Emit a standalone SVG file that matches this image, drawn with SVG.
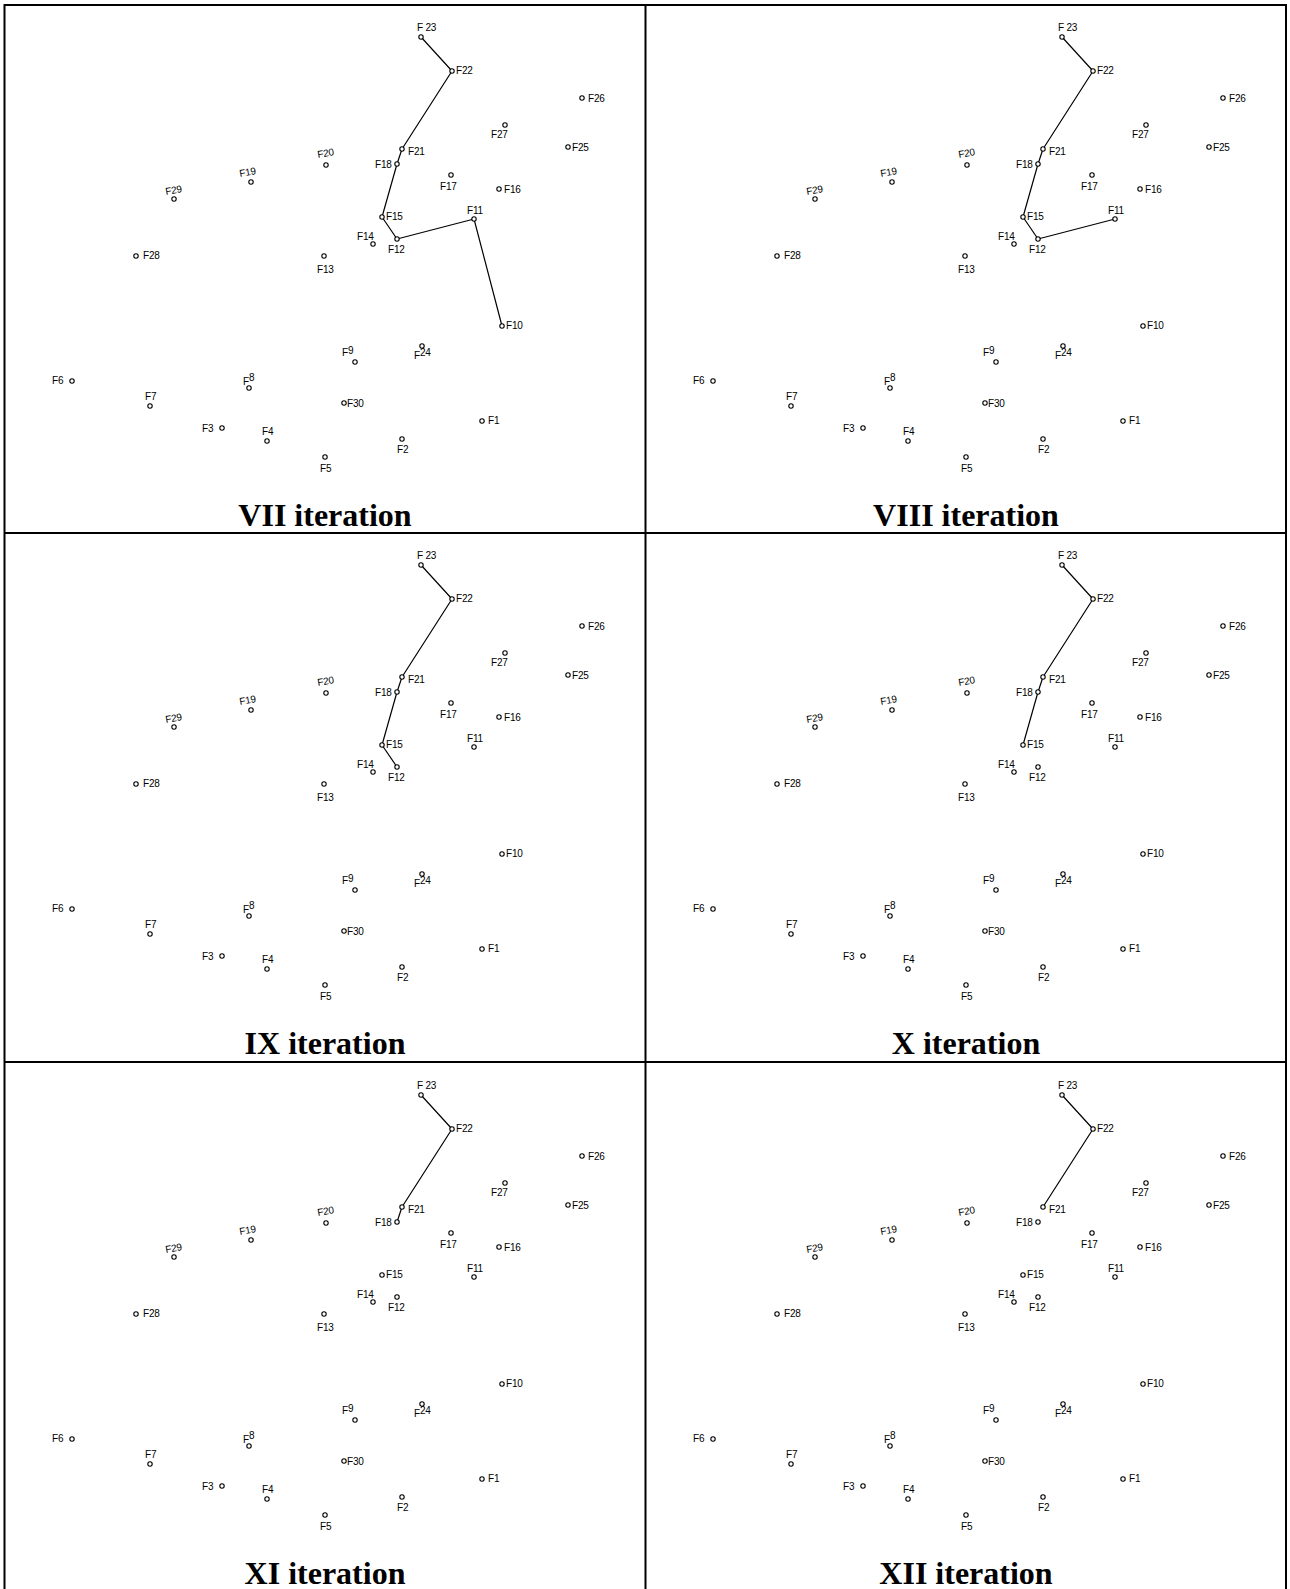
<svg xmlns="http://www.w3.org/2000/svg" width="1290" height="1589" viewBox="0 0 1290 1589">
<style>
.bg{fill:#fff}
.fr{stroke:#000;stroke-width:2;fill:none}
.c{fill:none;stroke:#000;stroke-width:1.2;stroke-linejoin:round}
.n circle{fill:#fff;stroke:#000;stroke-width:1.1}
.n text{font-family:"Liberation Sans",Arial,sans-serif;font-size:10px;fill:#000;letter-spacing:-0.2px}
.t{font-family:"Liberation Serif","Times New Roman",serif;font-weight:bold;font-size:32px;text-anchor:middle;fill:#000}
</style>
<rect class="bg" x="0" y="0" width="1290" height="1589"/>
<g id="frame">
<line class="fr" x1="4.5" y1="5" x2="1286" y2="5"/>
<line class="fr" x1="4.5" y1="4" x2="4.5" y2="1595"/>
<line class="fr" x1="1286" y1="4" x2="1286" y2="1595"/>
<line class="fr" x1="645.5" y1="4" x2="645.5" y2="1595"/>
<line class="fr" x1="4.5" y1="533" x2="1286" y2="533"/>
<line class="fr" x1="4.5" y1="1062" x2="1286" y2="1062"/>
</g>

<g id="panel-vii" transform="translate(0,0)">
<g id="connectors-vii"><polyline class="c" points="421,37 452,71 402,149 397,164 382,217 397,239 474,219 502,326"/></g>
<g id="vii-F1" class="n"><circle cx="482" cy="421" r="2.2"/><text x="488" y="424">F1</text></g>
<g id="vii-F2" class="n"><circle cx="402" cy="439" r="2.2"/><text x="397" y="453">F2</text></g>
<g id="vii-F3" class="n"><circle cx="222" cy="428" r="2.2"/><text x="202" y="432">F3</text></g>
<g id="vii-F4" class="n"><circle cx="267" cy="441" r="2.2"/><text x="262" y="435">F4</text></g>
<g id="vii-F5" class="n"><circle cx="325" cy="457" r="2.2"/><text x="320" y="472">F5</text></g>
<g id="vii-F6" class="n"><circle cx="72" cy="381" r="2.2"/><text x="52" y="384">F6</text></g>
<g id="vii-F7" class="n"><circle cx="150" cy="406" r="2.2"/><text x="145" y="400">F7</text></g>
<g id="vii-F8" class="n"><circle cx="249" cy="388" r="2.2"/><text x="243" y="385">F<tspan dy="-4">8</tspan></text></g>
<g id="vii-F9" class="n"><circle cx="355" cy="362" r="2.2"/><text x="342" y="356">F<tspan dy="-2">9</tspan></text></g>
<g id="vii-F10" class="n"><circle cx="502" cy="326" r="2.2"/><text x="506" y="329">F10</text></g>
<g id="vii-F11" class="n"><circle cx="474" cy="219" r="2.2"/><text x="467" y="214">F11</text></g>
<g id="vii-F12" class="n"><circle cx="397" cy="239" r="2.2"/><text x="388" y="253">F12</text></g>
<g id="vii-F13" class="n"><circle cx="324" cy="256" r="2.2"/><text x="317" y="273">F13</text></g>
<g id="vii-F14" class="n"><circle cx="373" cy="244" r="2.2"/><text x="357" y="240">F14</text></g>
<g id="vii-F15" class="n"><circle cx="382" cy="217" r="2.2"/><text x="386" y="220">F15</text></g>
<g id="vii-F16" class="n"><circle cx="499" cy="189" r="2.2"/><text x="504" y="193">F16</text></g>
<g id="vii-F17" class="n"><circle cx="451" cy="175" r="2.2"/><text x="440" y="190">F17</text></g>
<g id="vii-F18" class="n"><circle cx="397" cy="164" r="2.2"/><text x="375" y="168">F18</text></g>
<g id="vii-F19" class="n"><circle cx="251" cy="182" r="2.2"/><text x="240" y="177" transform="rotate(-10 240 177)">F19</text></g>
<g id="vii-F20" class="n"><circle cx="326" cy="165" r="2.2"/><text x="318" y="158" transform="rotate(-10 318 158)">F20</text></g>
<g id="vii-F21" class="n"><circle cx="402" cy="149" r="2.2"/><text x="408" y="155">F21</text></g>
<g id="vii-F22" class="n"><circle cx="452" cy="71" r="2.2"/><text x="456" y="74">F22</text></g>
<g id="vii-F23" class="n"><circle cx="421" cy="37" r="2.2"/><text x="417" y="31">F 23</text></g>
<g id="vii-F24" class="n"><circle cx="422" cy="346" r="2.2"/><text x="414" y="359">F<tspan dy="-3">24</tspan></text></g>
<g id="vii-F25" class="n"><circle cx="568" cy="147" r="2.2"/><text x="572" y="151">F25</text></g>
<g id="vii-F26" class="n"><circle cx="582" cy="98" r="2.2"/><text x="588" y="102">F26</text></g>
<g id="vii-F27" class="n"><circle cx="505" cy="125" r="2.2"/><text x="491" y="138">F27</text></g>
<g id="vii-F28" class="n"><circle cx="136" cy="256" r="2.2"/><text x="143" y="259">F28</text></g>
<g id="vii-F29" class="n"><circle cx="174" cy="199" r="2.2"/><text x="166" y="195" transform="rotate(-10 166 195)">F29</text></g>
<g id="vii-F30" class="n"><circle cx="344" cy="403" r="2.2"/><text x="347" y="407">F30</text></g>
<text class="t" x="325" y="526">VII iteration</text>
</g>

<g id="panel-viii" transform="translate(641,0)">
<g id="connectors-viii"><polyline class="c" points="421,37 452,71 402,149 397,164 382,217 397,239 474,219"/></g>
<g id="viii-F1" class="n"><circle cx="482" cy="421" r="2.2"/><text x="488" y="424">F1</text></g>
<g id="viii-F2" class="n"><circle cx="402" cy="439" r="2.2"/><text x="397" y="453">F2</text></g>
<g id="viii-F3" class="n"><circle cx="222" cy="428" r="2.2"/><text x="202" y="432">F3</text></g>
<g id="viii-F4" class="n"><circle cx="267" cy="441" r="2.2"/><text x="262" y="435">F4</text></g>
<g id="viii-F5" class="n"><circle cx="325" cy="457" r="2.2"/><text x="320" y="472">F5</text></g>
<g id="viii-F6" class="n"><circle cx="72" cy="381" r="2.2"/><text x="52" y="384">F6</text></g>
<g id="viii-F7" class="n"><circle cx="150" cy="406" r="2.2"/><text x="145" y="400">F7</text></g>
<g id="viii-F8" class="n"><circle cx="249" cy="388" r="2.2"/><text x="243" y="385">F<tspan dy="-4">8</tspan></text></g>
<g id="viii-F9" class="n"><circle cx="355" cy="362" r="2.2"/><text x="342" y="356">F<tspan dy="-2">9</tspan></text></g>
<g id="viii-F10" class="n"><circle cx="502" cy="326" r="2.2"/><text x="506" y="329">F10</text></g>
<g id="viii-F11" class="n"><circle cx="474" cy="219" r="2.2"/><text x="467" y="214">F11</text></g>
<g id="viii-F12" class="n"><circle cx="397" cy="239" r="2.2"/><text x="388" y="253">F12</text></g>
<g id="viii-F13" class="n"><circle cx="324" cy="256" r="2.2"/><text x="317" y="273">F13</text></g>
<g id="viii-F14" class="n"><circle cx="373" cy="244" r="2.2"/><text x="357" y="240">F14</text></g>
<g id="viii-F15" class="n"><circle cx="382" cy="217" r="2.2"/><text x="386" y="220">F15</text></g>
<g id="viii-F16" class="n"><circle cx="499" cy="189" r="2.2"/><text x="504" y="193">F16</text></g>
<g id="viii-F17" class="n"><circle cx="451" cy="175" r="2.2"/><text x="440" y="190">F17</text></g>
<g id="viii-F18" class="n"><circle cx="397" cy="164" r="2.2"/><text x="375" y="168">F18</text></g>
<g id="viii-F19" class="n"><circle cx="251" cy="182" r="2.2"/><text x="240" y="177" transform="rotate(-10 240 177)">F19</text></g>
<g id="viii-F20" class="n"><circle cx="326" cy="165" r="2.2"/><text x="318" y="158" transform="rotate(-10 318 158)">F20</text></g>
<g id="viii-F21" class="n"><circle cx="402" cy="149" r="2.2"/><text x="408" y="155">F21</text></g>
<g id="viii-F22" class="n"><circle cx="452" cy="71" r="2.2"/><text x="456" y="74">F22</text></g>
<g id="viii-F23" class="n"><circle cx="421" cy="37" r="2.2"/><text x="417" y="31">F 23</text></g>
<g id="viii-F24" class="n"><circle cx="422" cy="346" r="2.2"/><text x="414" y="359">F<tspan dy="-3">24</tspan></text></g>
<g id="viii-F25" class="n"><circle cx="568" cy="147" r="2.2"/><text x="572" y="151">F25</text></g>
<g id="viii-F26" class="n"><circle cx="582" cy="98" r="2.2"/><text x="588" y="102">F26</text></g>
<g id="viii-F27" class="n"><circle cx="505" cy="125" r="2.2"/><text x="491" y="138">F27</text></g>
<g id="viii-F28" class="n"><circle cx="136" cy="256" r="2.2"/><text x="143" y="259">F28</text></g>
<g id="viii-F29" class="n"><circle cx="174" cy="199" r="2.2"/><text x="166" y="195" transform="rotate(-10 166 195)">F29</text></g>
<g id="viii-F30" class="n"><circle cx="344" cy="403" r="2.2"/><text x="347" y="407">F30</text></g>
<text class="t" x="325" y="526">VIII iteration</text>
</g>

<g id="panel-ix" transform="translate(0,528)">
<g id="connectors-ix"><polyline class="c" points="421,37 452,71 402,149 397,164 382,217 397,239"/></g>
<g id="ix-F1" class="n"><circle cx="482" cy="421" r="2.2"/><text x="488" y="424">F1</text></g>
<g id="ix-F2" class="n"><circle cx="402" cy="439" r="2.2"/><text x="397" y="453">F2</text></g>
<g id="ix-F3" class="n"><circle cx="222" cy="428" r="2.2"/><text x="202" y="432">F3</text></g>
<g id="ix-F4" class="n"><circle cx="267" cy="441" r="2.2"/><text x="262" y="435">F4</text></g>
<g id="ix-F5" class="n"><circle cx="325" cy="457" r="2.2"/><text x="320" y="472">F5</text></g>
<g id="ix-F6" class="n"><circle cx="72" cy="381" r="2.2"/><text x="52" y="384">F6</text></g>
<g id="ix-F7" class="n"><circle cx="150" cy="406" r="2.2"/><text x="145" y="400">F7</text></g>
<g id="ix-F8" class="n"><circle cx="249" cy="388" r="2.2"/><text x="243" y="385">F<tspan dy="-4">8</tspan></text></g>
<g id="ix-F9" class="n"><circle cx="355" cy="362" r="2.2"/><text x="342" y="356">F<tspan dy="-2">9</tspan></text></g>
<g id="ix-F10" class="n"><circle cx="502" cy="326" r="2.2"/><text x="506" y="329">F10</text></g>
<g id="ix-F11" class="n"><circle cx="474" cy="219" r="2.2"/><text x="467" y="214">F11</text></g>
<g id="ix-F12" class="n"><circle cx="397" cy="239" r="2.2"/><text x="388" y="253">F12</text></g>
<g id="ix-F13" class="n"><circle cx="324" cy="256" r="2.2"/><text x="317" y="273">F13</text></g>
<g id="ix-F14" class="n"><circle cx="373" cy="244" r="2.2"/><text x="357" y="240">F14</text></g>
<g id="ix-F15" class="n"><circle cx="382" cy="217" r="2.2"/><text x="386" y="220">F15</text></g>
<g id="ix-F16" class="n"><circle cx="499" cy="189" r="2.2"/><text x="504" y="193">F16</text></g>
<g id="ix-F17" class="n"><circle cx="451" cy="175" r="2.2"/><text x="440" y="190">F17</text></g>
<g id="ix-F18" class="n"><circle cx="397" cy="164" r="2.2"/><text x="375" y="168">F18</text></g>
<g id="ix-F19" class="n"><circle cx="251" cy="182" r="2.2"/><text x="240" y="177" transform="rotate(-10 240 177)">F19</text></g>
<g id="ix-F20" class="n"><circle cx="326" cy="165" r="2.2"/><text x="318" y="158" transform="rotate(-10 318 158)">F20</text></g>
<g id="ix-F21" class="n"><circle cx="402" cy="149" r="2.2"/><text x="408" y="155">F21</text></g>
<g id="ix-F22" class="n"><circle cx="452" cy="71" r="2.2"/><text x="456" y="74">F22</text></g>
<g id="ix-F23" class="n"><circle cx="421" cy="37" r="2.2"/><text x="417" y="31">F 23</text></g>
<g id="ix-F24" class="n"><circle cx="422" cy="346" r="2.2"/><text x="414" y="359">F<tspan dy="-3">24</tspan></text></g>
<g id="ix-F25" class="n"><circle cx="568" cy="147" r="2.2"/><text x="572" y="151">F25</text></g>
<g id="ix-F26" class="n"><circle cx="582" cy="98" r="2.2"/><text x="588" y="102">F26</text></g>
<g id="ix-F27" class="n"><circle cx="505" cy="125" r="2.2"/><text x="491" y="138">F27</text></g>
<g id="ix-F28" class="n"><circle cx="136" cy="256" r="2.2"/><text x="143" y="259">F28</text></g>
<g id="ix-F29" class="n"><circle cx="174" cy="199" r="2.2"/><text x="166" y="195" transform="rotate(-10 166 195)">F29</text></g>
<g id="ix-F30" class="n"><circle cx="344" cy="403" r="2.2"/><text x="347" y="407">F30</text></g>
<text class="t" x="325" y="526">IX iteration</text>
</g>

<g id="panel-x" transform="translate(641,528)">
<g id="connectors-x"><polyline class="c" points="421,37 452,71 402,149 397,164 382,217"/></g>
<g id="x-F1" class="n"><circle cx="482" cy="421" r="2.2"/><text x="488" y="424">F1</text></g>
<g id="x-F2" class="n"><circle cx="402" cy="439" r="2.2"/><text x="397" y="453">F2</text></g>
<g id="x-F3" class="n"><circle cx="222" cy="428" r="2.2"/><text x="202" y="432">F3</text></g>
<g id="x-F4" class="n"><circle cx="267" cy="441" r="2.2"/><text x="262" y="435">F4</text></g>
<g id="x-F5" class="n"><circle cx="325" cy="457" r="2.2"/><text x="320" y="472">F5</text></g>
<g id="x-F6" class="n"><circle cx="72" cy="381" r="2.2"/><text x="52" y="384">F6</text></g>
<g id="x-F7" class="n"><circle cx="150" cy="406" r="2.2"/><text x="145" y="400">F7</text></g>
<g id="x-F8" class="n"><circle cx="249" cy="388" r="2.2"/><text x="243" y="385">F<tspan dy="-4">8</tspan></text></g>
<g id="x-F9" class="n"><circle cx="355" cy="362" r="2.2"/><text x="342" y="356">F<tspan dy="-2">9</tspan></text></g>
<g id="x-F10" class="n"><circle cx="502" cy="326" r="2.2"/><text x="506" y="329">F10</text></g>
<g id="x-F11" class="n"><circle cx="474" cy="219" r="2.2"/><text x="467" y="214">F11</text></g>
<g id="x-F12" class="n"><circle cx="397" cy="239" r="2.2"/><text x="388" y="253">F12</text></g>
<g id="x-F13" class="n"><circle cx="324" cy="256" r="2.2"/><text x="317" y="273">F13</text></g>
<g id="x-F14" class="n"><circle cx="373" cy="244" r="2.2"/><text x="357" y="240">F14</text></g>
<g id="x-F15" class="n"><circle cx="382" cy="217" r="2.2"/><text x="386" y="220">F15</text></g>
<g id="x-F16" class="n"><circle cx="499" cy="189" r="2.2"/><text x="504" y="193">F16</text></g>
<g id="x-F17" class="n"><circle cx="451" cy="175" r="2.2"/><text x="440" y="190">F17</text></g>
<g id="x-F18" class="n"><circle cx="397" cy="164" r="2.2"/><text x="375" y="168">F18</text></g>
<g id="x-F19" class="n"><circle cx="251" cy="182" r="2.2"/><text x="240" y="177" transform="rotate(-10 240 177)">F19</text></g>
<g id="x-F20" class="n"><circle cx="326" cy="165" r="2.2"/><text x="318" y="158" transform="rotate(-10 318 158)">F20</text></g>
<g id="x-F21" class="n"><circle cx="402" cy="149" r="2.2"/><text x="408" y="155">F21</text></g>
<g id="x-F22" class="n"><circle cx="452" cy="71" r="2.2"/><text x="456" y="74">F22</text></g>
<g id="x-F23" class="n"><circle cx="421" cy="37" r="2.2"/><text x="417" y="31">F 23</text></g>
<g id="x-F24" class="n"><circle cx="422" cy="346" r="2.2"/><text x="414" y="359">F<tspan dy="-3">24</tspan></text></g>
<g id="x-F25" class="n"><circle cx="568" cy="147" r="2.2"/><text x="572" y="151">F25</text></g>
<g id="x-F26" class="n"><circle cx="582" cy="98" r="2.2"/><text x="588" y="102">F26</text></g>
<g id="x-F27" class="n"><circle cx="505" cy="125" r="2.2"/><text x="491" y="138">F27</text></g>
<g id="x-F28" class="n"><circle cx="136" cy="256" r="2.2"/><text x="143" y="259">F28</text></g>
<g id="x-F29" class="n"><circle cx="174" cy="199" r="2.2"/><text x="166" y="195" transform="rotate(-10 166 195)">F29</text></g>
<g id="x-F30" class="n"><circle cx="344" cy="403" r="2.2"/><text x="347" y="407">F30</text></g>
<text class="t" x="325" y="526">X iteration</text>
</g>

<g id="panel-xi" transform="translate(0,1058)">
<g id="connectors-xi"><polyline class="c" points="421,37 452,71 402,149 397,164"/></g>
<g id="xi-F1" class="n"><circle cx="482" cy="421" r="2.2"/><text x="488" y="424">F1</text></g>
<g id="xi-F2" class="n"><circle cx="402" cy="439" r="2.2"/><text x="397" y="453">F2</text></g>
<g id="xi-F3" class="n"><circle cx="222" cy="428" r="2.2"/><text x="202" y="432">F3</text></g>
<g id="xi-F4" class="n"><circle cx="267" cy="441" r="2.2"/><text x="262" y="435">F4</text></g>
<g id="xi-F5" class="n"><circle cx="325" cy="457" r="2.2"/><text x="320" y="472">F5</text></g>
<g id="xi-F6" class="n"><circle cx="72" cy="381" r="2.2"/><text x="52" y="384">F6</text></g>
<g id="xi-F7" class="n"><circle cx="150" cy="406" r="2.2"/><text x="145" y="400">F7</text></g>
<g id="xi-F8" class="n"><circle cx="249" cy="388" r="2.2"/><text x="243" y="385">F<tspan dy="-4">8</tspan></text></g>
<g id="xi-F9" class="n"><circle cx="355" cy="362" r="2.2"/><text x="342" y="356">F<tspan dy="-2">9</tspan></text></g>
<g id="xi-F10" class="n"><circle cx="502" cy="326" r="2.2"/><text x="506" y="329">F10</text></g>
<g id="xi-F11" class="n"><circle cx="474" cy="219" r="2.2"/><text x="467" y="214">F11</text></g>
<g id="xi-F12" class="n"><circle cx="397" cy="239" r="2.2"/><text x="388" y="253">F12</text></g>
<g id="xi-F13" class="n"><circle cx="324" cy="256" r="2.2"/><text x="317" y="273">F13</text></g>
<g id="xi-F14" class="n"><circle cx="373" cy="244" r="2.2"/><text x="357" y="240">F14</text></g>
<g id="xi-F15" class="n"><circle cx="382" cy="217" r="2.2"/><text x="386" y="220">F15</text></g>
<g id="xi-F16" class="n"><circle cx="499" cy="189" r="2.2"/><text x="504" y="193">F16</text></g>
<g id="xi-F17" class="n"><circle cx="451" cy="175" r="2.2"/><text x="440" y="190">F17</text></g>
<g id="xi-F18" class="n"><circle cx="397" cy="164" r="2.2"/><text x="375" y="168">F18</text></g>
<g id="xi-F19" class="n"><circle cx="251" cy="182" r="2.2"/><text x="240" y="177" transform="rotate(-10 240 177)">F19</text></g>
<g id="xi-F20" class="n"><circle cx="326" cy="165" r="2.2"/><text x="318" y="158" transform="rotate(-10 318 158)">F20</text></g>
<g id="xi-F21" class="n"><circle cx="402" cy="149" r="2.2"/><text x="408" y="155">F21</text></g>
<g id="xi-F22" class="n"><circle cx="452" cy="71" r="2.2"/><text x="456" y="74">F22</text></g>
<g id="xi-F23" class="n"><circle cx="421" cy="37" r="2.2"/><text x="417" y="31">F 23</text></g>
<g id="xi-F24" class="n"><circle cx="422" cy="346" r="2.2"/><text x="414" y="359">F<tspan dy="-3">24</tspan></text></g>
<g id="xi-F25" class="n"><circle cx="568" cy="147" r="2.2"/><text x="572" y="151">F25</text></g>
<g id="xi-F26" class="n"><circle cx="582" cy="98" r="2.2"/><text x="588" y="102">F26</text></g>
<g id="xi-F27" class="n"><circle cx="505" cy="125" r="2.2"/><text x="491" y="138">F27</text></g>
<g id="xi-F28" class="n"><circle cx="136" cy="256" r="2.2"/><text x="143" y="259">F28</text></g>
<g id="xi-F29" class="n"><circle cx="174" cy="199" r="2.2"/><text x="166" y="195" transform="rotate(-10 166 195)">F29</text></g>
<g id="xi-F30" class="n"><circle cx="344" cy="403" r="2.2"/><text x="347" y="407">F30</text></g>
<text class="t" x="325" y="526">XI iteration</text>
</g>

<g id="panel-xii" transform="translate(641,1058)">
<g id="connectors-xii"><polyline class="c" points="421,37 452,71 402,149"/></g>
<g id="xii-F1" class="n"><circle cx="482" cy="421" r="2.2"/><text x="488" y="424">F1</text></g>
<g id="xii-F2" class="n"><circle cx="402" cy="439" r="2.2"/><text x="397" y="453">F2</text></g>
<g id="xii-F3" class="n"><circle cx="222" cy="428" r="2.2"/><text x="202" y="432">F3</text></g>
<g id="xii-F4" class="n"><circle cx="267" cy="441" r="2.2"/><text x="262" y="435">F4</text></g>
<g id="xii-F5" class="n"><circle cx="325" cy="457" r="2.2"/><text x="320" y="472">F5</text></g>
<g id="xii-F6" class="n"><circle cx="72" cy="381" r="2.2"/><text x="52" y="384">F6</text></g>
<g id="xii-F7" class="n"><circle cx="150" cy="406" r="2.2"/><text x="145" y="400">F7</text></g>
<g id="xii-F8" class="n"><circle cx="249" cy="388" r="2.2"/><text x="243" y="385">F<tspan dy="-4">8</tspan></text></g>
<g id="xii-F9" class="n"><circle cx="355" cy="362" r="2.2"/><text x="342" y="356">F<tspan dy="-2">9</tspan></text></g>
<g id="xii-F10" class="n"><circle cx="502" cy="326" r="2.2"/><text x="506" y="329">F10</text></g>
<g id="xii-F11" class="n"><circle cx="474" cy="219" r="2.2"/><text x="467" y="214">F11</text></g>
<g id="xii-F12" class="n"><circle cx="397" cy="239" r="2.2"/><text x="388" y="253">F12</text></g>
<g id="xii-F13" class="n"><circle cx="324" cy="256" r="2.2"/><text x="317" y="273">F13</text></g>
<g id="xii-F14" class="n"><circle cx="373" cy="244" r="2.2"/><text x="357" y="240">F14</text></g>
<g id="xii-F15" class="n"><circle cx="382" cy="217" r="2.2"/><text x="386" y="220">F15</text></g>
<g id="xii-F16" class="n"><circle cx="499" cy="189" r="2.2"/><text x="504" y="193">F16</text></g>
<g id="xii-F17" class="n"><circle cx="451" cy="175" r="2.2"/><text x="440" y="190">F17</text></g>
<g id="xii-F18" class="n"><circle cx="397" cy="164" r="2.2"/><text x="375" y="168">F18</text></g>
<g id="xii-F19" class="n"><circle cx="251" cy="182" r="2.2"/><text x="240" y="177" transform="rotate(-10 240 177)">F19</text></g>
<g id="xii-F20" class="n"><circle cx="326" cy="165" r="2.2"/><text x="318" y="158" transform="rotate(-10 318 158)">F20</text></g>
<g id="xii-F21" class="n"><circle cx="402" cy="149" r="2.2"/><text x="408" y="155">F21</text></g>
<g id="xii-F22" class="n"><circle cx="452" cy="71" r="2.2"/><text x="456" y="74">F22</text></g>
<g id="xii-F23" class="n"><circle cx="421" cy="37" r="2.2"/><text x="417" y="31">F 23</text></g>
<g id="xii-F24" class="n"><circle cx="422" cy="346" r="2.2"/><text x="414" y="359">F<tspan dy="-3">24</tspan></text></g>
<g id="xii-F25" class="n"><circle cx="568" cy="147" r="2.2"/><text x="572" y="151">F25</text></g>
<g id="xii-F26" class="n"><circle cx="582" cy="98" r="2.2"/><text x="588" y="102">F26</text></g>
<g id="xii-F27" class="n"><circle cx="505" cy="125" r="2.2"/><text x="491" y="138">F27</text></g>
<g id="xii-F28" class="n"><circle cx="136" cy="256" r="2.2"/><text x="143" y="259">F28</text></g>
<g id="xii-F29" class="n"><circle cx="174" cy="199" r="2.2"/><text x="166" y="195" transform="rotate(-10 166 195)">F29</text></g>
<g id="xii-F30" class="n"><circle cx="344" cy="403" r="2.2"/><text x="347" y="407">F30</text></g>
<text class="t" x="325" y="526">XII iteration</text>
</g>
</svg>
